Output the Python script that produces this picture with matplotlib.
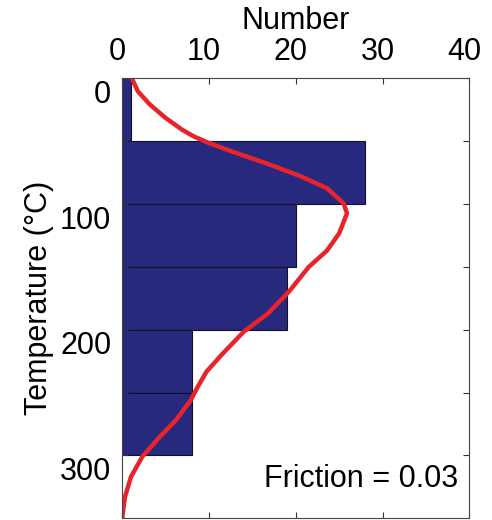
import matplotlib
matplotlib.use("Agg")
import matplotlib.pyplot as plt
import matplotlib.transforms as mtransforms

plt.rcParams['font.family'] = ['Liberation Sans', 'DejaVu Sans']

# Histogram of temperatures (50 °C bins)
bin_edges = [0, 50, 100, 150, 200, 250, 300]
counts = [1, 28, 20, 19, 8, 8]

# Model curve: temperature (°C) vs number
curve_temp = [0, 10.4, 21, 31.6, 40.9, 46.1, 51.5, 58.4, 67.6, 78.3, 87.5,
              99.4, 107.4, 123.3, 137, 150, 169.8, 187, 201.6, 218.8, 233.4,
              246.6, 255.9, 271.8, 285, 301, 317, 332.9, 346, 350]
curve_num = [1.1, 1.8, 3.2, 5.0, 6.9, 8.2, 10.0, 12.7, 16.6, 20.7, 23.6,
             25.5, 25.9, 25.0, 23.6, 21.5, 19.2, 16.8, 14.0, 11.6, 9.7,
             8.6, 7.9, 6.2, 4.35, 2.3, 1.0, 0.31, 0.05, 0.0]

annotation = "Friction = 0.03"

fig = plt.figure(figsize=(4.92, 5.2), dpi=100)
ax = fig.add_axes([0.2486, 0.0033, 0.7053, 0.8461])

bar_color = '#27297e'
heights = [bin_edges[i + 1] - bin_edges[i] for i in range(len(counts))]
ax.barh(bin_edges[:-1], counts, height=heights, align='edge',
        color=bar_color, edgecolor='#111122', linewidth=0.8)

ax.plot(curve_num, curve_temp, color='#e8232b', linewidth=3.2,
        solid_capstyle='round', solid_joinstyle='round')

ax.set_xlim(0, 40)
ax.set_ylim(350, 0)

ax.xaxis.set_ticks_position('both')
ax.yaxis.set_ticks_position('both')
ax.xaxis.set_label_position('top')
ax.tick_params(axis='x', which='both', labeltop=True, labelbottom=False)
ax.tick_params(direction='in', length=4, width=0.8, labelsize=22, pad=8,
               color='#333333')

ax.set_xticks([0, 10, 20, 30, 40])
yticks = [0, 50, 100, 150, 200, 250, 300]
ax.set_yticks(yticks)
ax.set_yticklabels([str(t) if t % 100 == 0 else '' for t in yticks])

ax.set_xlabel('Number', fontsize=22, labelpad=6)
ax.set_ylabel('Temperature (°C)', fontsize=22, labelpad=4)

for s in ax.spines.values():
    s.set_linewidth(0.8)
    s.set_color('#444444')

# nudge tick labels
for lbl in ax.get_yticklabels():
    lbl.set_transform(lbl.get_transform() +
                      mtransforms.ScaledTranslation(0, -13 / fig.dpi, fig.dpi_scale_trans))
for lbl in ax.get_xticklabels():
    lbl.set_transform(lbl.get_transform() +
                      mtransforms.ScaledTranslation(-5 / fig.dpi, 0, fig.dpi_scale_trans))

ax.text(38.7, 325.4, annotation, fontsize=22, ha='right', va='baseline')

fig.savefig('out.png', dpi=100)
